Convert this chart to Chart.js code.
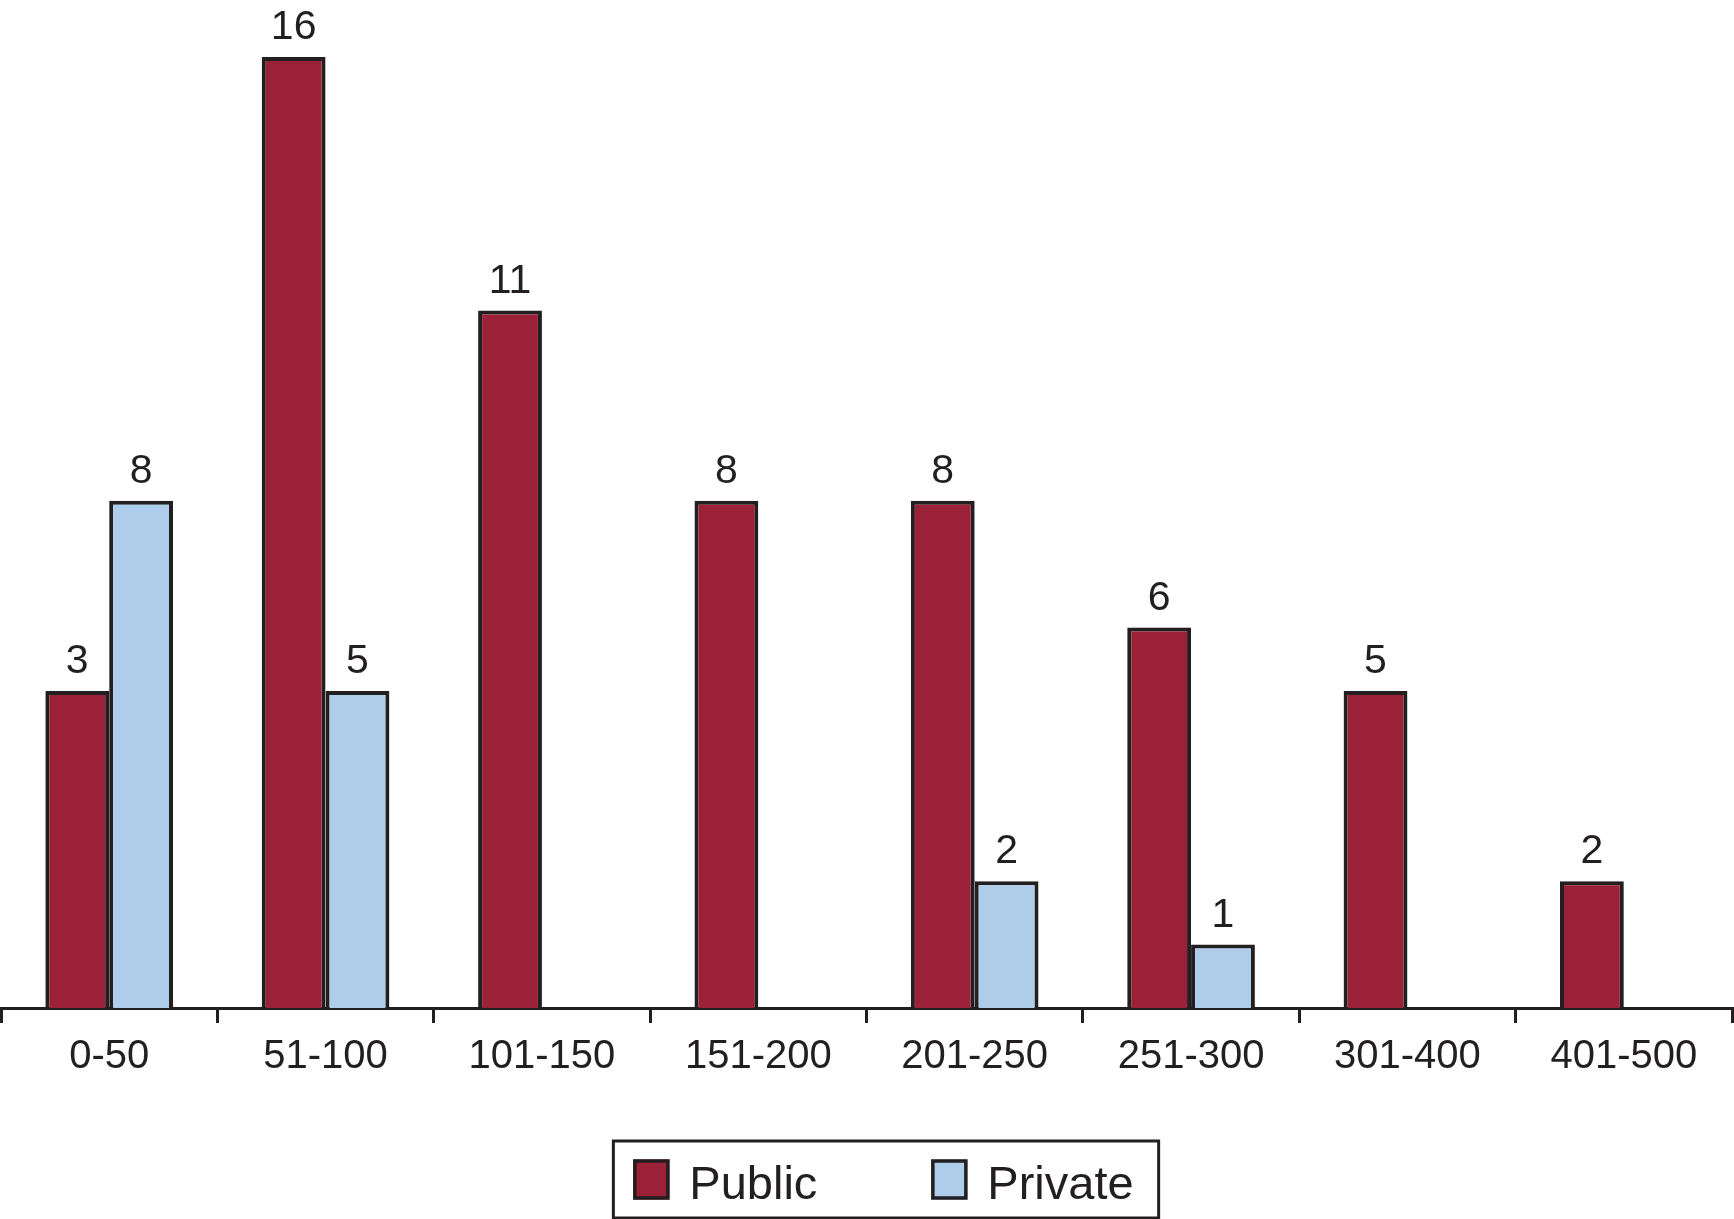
<!DOCTYPE html>
<html>
<head>
<meta charset="utf-8">
<script src="https://cdn.jsdelivr.net/npm/chart.js@4.4.1/dist/chart.umd.min.js"></script>
<style>
  html, body { margin: 0; padding: 0; background: #fff; }
  #wrap { width: 1734px; height: 1219px; position: relative; }
</style>
</head>
<body>
<div id="wrap"><canvas id="chart"></canvas></div>
<script>
'use strict';

// categories (bed ranges)
const categories = ['0-50', '51-100', '101-150', '151-200', '201-250', '251-300', '301-400', '401-500'];
// bar heights as drawn in the picture
const publicBars  = [5, 15, 11, 8, 8, 6, 5, 2];
const privateBars = [8, 5, null, null, 2, 1, null, null];
// numbers printed above the bars
const publicLabels  = ['3', '16', '11', '8', '8', '6', '5', '2'];
const privateLabels = ['8', '5', '', '', '2', '1', '', ''];
const seriesNames = ['Public', 'Private'];

const INK = '#231f20';
const FONT = '"Liberation Sans", Arial, sans-serif';

// labels above bars
const valueLabels = {
  id: 'valueLabels',
  afterDatasetsDraw(chart){
    const ctx = chart.ctx;
    const texts = [publicLabels, privateLabels];
    ctx.save();
    ctx.fillStyle = INK;
    ctx.font = '41px ' + FONT;
    ctx.textAlign = 'center';
    ctx.textBaseline = 'alphabetic';
    chart.data.datasets.forEach((ds, i) => {
      const meta = chart.getDatasetMeta(i);
      meta.data.forEach((bar, j) => {
        const t = texts[i][j];
        if(!t || ds.data[j] == null) return;
        ctx.fillText(t, bar.x, bar.y - 18);
      });
    });
    ctx.restore();
  }
};

// boxed legend under the axis
const boxLegend = {
  id: 'boxLegend',
  afterDraw(chart){
    const ctx = chart.ctx;
    const sets = chart.data.datasets;
    ctx.save();
    ctx.font = '47px ' + FONT;
    const widths = sets.map(ds => ctx.measureText(ds.label).width);
    const sq = 36, sqH = 40, gap = 20, itemGap = 114;
    let total = 20 + 25;
    widths.forEach((w, i) => { total += sq + gap + w + (i ? itemGap : 0); });
    const centerX = 886, top = 1141, h = 77;
    const left = centerX - total / 2;
    ctx.strokeStyle = INK;
    ctx.lineWidth = 3;
    ctx.strokeRect(left, top, total, h);
    let x = left + 20;
    const mid = top + h / 2;
    sets.forEach((ds, i) => {
      if(i) x += itemGap;
      ctx.fillStyle = ds.backgroundColor;
      ctx.fillRect(x, mid - sqH / 2, sq, sqH);
      ctx.strokeStyle = INK;
      ctx.lineWidth = 3.5;
      ctx.strokeRect(x + 1.5, mid - sqH / 2 + 1.5, sq - 3, sqH - 3);
      x += sq + gap;
      ctx.fillStyle = INK;
      ctx.textBaseline = 'alphabetic';
      ctx.fillText(ds.label, x, mid + 19);
      x += widths[i];
    });
    ctx.restore();
  }
};

new Chart(document.getElementById('chart').getContext('2d'), {
  type: 'bar',
  data: {
    labels: categories,
    datasets: [
      { label: seriesNames[0], data: publicBars, backgroundColor: '#9b2139', borderColor: INK, borderWidth: 4 },
      { label: seriesNames[1], data: privateBars, backgroundColor: '#aecdea', borderColor: INK, borderWidth: 4 }
    ]
  },
  options: {
    responsive: true,
    maintainAspectRatio: false,
    animation: false,
    devicePixelRatio: 1,
    layout: { padding: { top: 57, left: 1, right: 2, bottom: 128 } },
    datasets: { bar: { categoryPercentage: 0.59, barPercentage: 1.0 } },
    plugins: {
      tooltip: { enabled: false },
      legend: { display: false }
    },
    scales: {
      x: {
        grid: { offset: true, drawOnChartArea: false, drawTicks: true, tickLength: 15, color: INK, lineWidth: 3 },
        border: { display: true, color: INK, width: 3 },
        ticks: { color: INK, font: { family: FONT, size: 40 }, padding: 10, maxRotation: 0 }
      },
      y: {
        display: false,
        min: 0,
        max: 15
      }
    }
  },
  plugins: [valueLabels, boxLegend]
});
</script>
</body>
</html>
